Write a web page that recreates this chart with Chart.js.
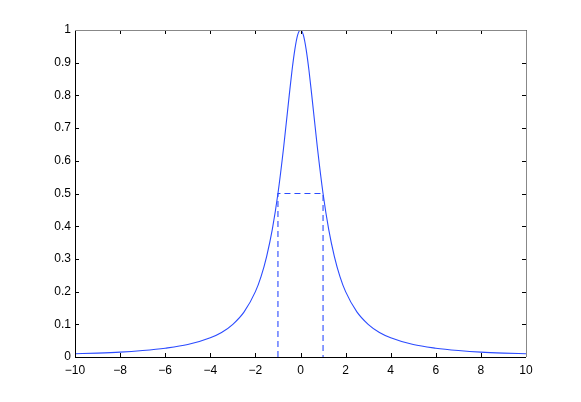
<!DOCTYPE html>
<html>
<head>
<meta charset="utf-8">
<script src="https://cdn.jsdelivr.net/npm/chart.js@4/dist/chart.umd.min.js"></script>
<style>
  html, body { margin: 0; padding: 0; background: #fff; }
</style>
</head>
<body>
<canvas id="chart" width="581" height="402"></canvas>
<script>
// curve (peak at 0, half height at +-1)
var curveX = [-10, -9, -8, -7, -6, -5, -4, -3.5, -3, -2.5, -2, -1.75, -1.5, -1.25, -1, -0.75, -0.5, -0.375, -0.25, -0.125, 0,
              0.125, 0.25, 0.375, 0.5, 0.75, 1, 1.25, 1.5, 1.75, 2, 2.5, 3, 3.5, 4, 5, 6, 7, 8, 9, 10];
var curveY = [0.010, 0.012, 0.015, 0.020, 0.027, 0.038, 0.059, 0.075, 0.100, 0.138, 0.200, 0.246, 0.308, 0.390, 0.500, 0.640, 0.800, 0.877, 0.941, 0.985, 1.000,
              0.985, 0.941, 0.877, 0.800, 0.640, 0.500, 0.390, 0.308, 0.246, 0.200, 0.138, 0.100, 0.075, 0.059, 0.038, 0.027, 0.020, 0.015, 0.012, 0.010];

// dashed half-width box
var dashX = [-1, -1, 1, 1];
var dashY = [0, 0.5, 0.5, 0];

var xTicks = [-10, -8, -6, -4, -2, 0, 2, 4, 6, 8, 10];
var yTicks = [0, 0.1, 0.2, 0.3, 0.4, 0.5, 0.6, 0.7, 0.8, 0.9, 1];

function toPoints(xs, ys) {
  return xs.map(function(x, i) { return { x: x, y: ys[i] }; });
}

// matlab style box with ticks pointing inwards
var boxPlugin = {
  id: 'box',
  afterDraw: function(chart) {
    var ctx = chart.ctx;
    var a = chart.chartArea;
    var xs = chart.scales.x, ys = chart.scales.y;
    ctx.save();
    ctx.lineWidth = 1;
    ctx.strokeStyle = '#000';
    ctx.beginPath();
    xTicks.forEach(function(v) {
      var px = Math.round(xs.getPixelForValue(v)) + 0.5;
      ctx.moveTo(px, a.bottom); ctx.lineTo(px, a.bottom - 4);
      ctx.moveTo(px, a.top); ctx.lineTo(px, a.top + 4);
    });
    yTicks.forEach(function(v) {
      var py = Math.round(ys.getPixelForValue(v)) + 0.5;
      ctx.moveTo(a.left, py); ctx.lineTo(a.left + 4, py);
      ctx.moveTo(a.right, py); ctx.lineTo(a.right - 4, py);
    });
    ctx.stroke();
    ctx.beginPath();
    ctx.moveTo(a.left + 0.5, a.top);
    ctx.lineTo(a.left + 0.5, a.bottom + 0.5);
    ctx.lineTo(a.right, a.bottom + 0.5);
    ctx.stroke();
    ctx.strokeStyle = '#888';
    ctx.beginPath();
    ctx.moveTo(a.left, a.top + 0.5);
    ctx.lineTo(a.right + 0.5, a.top + 0.5);
    ctx.lineTo(a.right + 0.5, a.bottom);
    ctx.stroke();
    ctx.restore();
  }
};

var chart = new Chart(document.getElementById('chart'), {
  type: 'scatter',
  data: {
    datasets: [
      {
        data: toPoints(curveX, curveY),
        showLine: true,
        borderColor: '#2b4bff',
        borderWidth: 1.1,
        pointRadius: 0,
        cubicInterpolationMode: 'monotone'
      },
      {
        data: toPoints(dashX, dashY),
        showLine: true,
        borderColor: '#2b4bff',
        borderWidth: 1.1,
        borderDash: [6, 4],
        pointRadius: 0,
        tension: 0
      }
    ]
  },
  options: {
    responsive: false,
    animation: false,
    layout: { padding: { top: 30, right: 55, left: 0, bottom: 0 } },
    plugins: { legend: { display: false }, tooltip: { enabled: false } },
    scales: {
      x: {
        type: 'linear',
        min: -10, max: 10,
        afterFit: function(s) { s.height = 45; },
        afterBuildTicks: function(s) { s.ticks = xTicks.map(function(v) { return { value: v }; }); },
        grid: { display: false, drawTicks: false },
        border: { display: false },
        ticks: {
          padding: 6,
          color: '#000',
          font: { family: 'Liberation Sans', size: 12 },
          maxRotation: 0,
          callback: function(v) { return String(v).replace('-', '\u2212'); }
        }
      },
      y: {
        type: 'linear',
        min: 0, max: 1,
        afterFit: function(s) { s.width = 75; },
        afterBuildTicks: function(s) { s.ticks = yTicks.map(function(v) { return { value: v }; }); },
        grid: { display: false, drawTicks: false },
        border: { display: false },
        ticks: {
          padding: 4,
          color: '#000',
          font: { family: 'Liberation Sans', size: 12 },
          callback: function(v) { return String(Math.round(v * 10) / 10); }
        }
      }
    }
  },
  plugins: [boxPlugin]
});
</script>
</body>
</html>
